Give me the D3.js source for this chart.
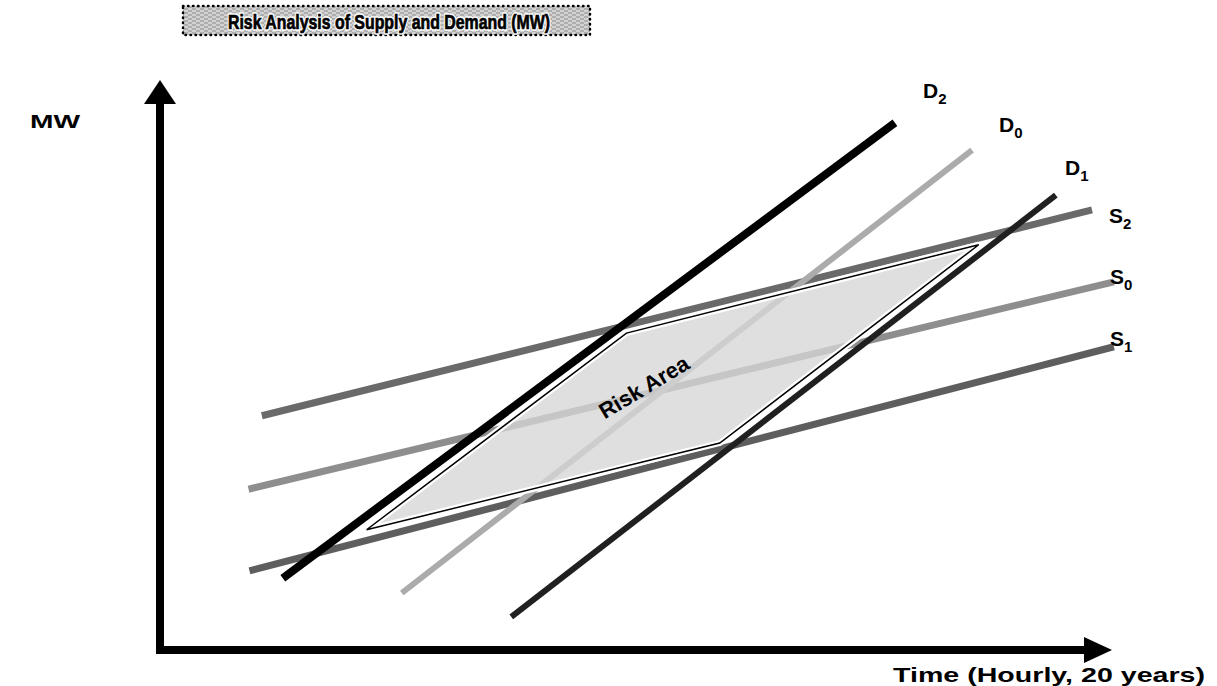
<!DOCTYPE html>
<html>
<head>
<meta charset="utf-8">
<script src="https://cdn.jsdelivr.net/npm/d3@7"></script>
<style>
  body { margin: 0; background: #fff; }
  svg { display: block; }
  text { font-family: "Liberation Sans", Arial, sans-serif; font-weight: bold; }
</style>
</head>
<body>
<svg id="chart" width="1217" height="686"></svg>
<script>
// data (chart units, 0..100 on both axes)
var title = "Risk Analysis of Supply and Demand (MW)";
var yLabel = "MW";
var xLabel = "Time (Hourly, 20 years)";

var lineNames = ["S", "S", "S", "D", "D", "D"];
var lineSubs = ["2", "0", "1", "2", "0", "1"];
var lineX0 = [10.7, 9.3, 9.4, 12.9, 25.4, 36.9];
var lineY0 = [41.1, 28.2, 13.9, 12.6, 10.0, 5.8];
var lineX1 = [97.9, 100.2, 100.2, 77.2, 85.3, 94.1];
var lineY1 = [77.2, 64.6, 53.2, 92.5, 87.7, 79.8];

var riskX = [21.7, 49.0, 86.0, 58.8];
var riskY = [21.1, 55.6, 71.1, 36.3];
var riskLabel = "Risk Area";

// look
var lineColor = ["#6a6a6a", "#8e8e8e", "#5e5e5e", "#000", "#ababab", "#202020"];
var lineWidth = [7, 7, 7, 8, 6, 6];
var labelPos = [[1109, 223], [1110, 284], [1110, 346], [923, 98], [999, 132], [1065, 175]];

var svg = d3.select("#chart");
var x = d3.scaleLinear().domain([0, 100]).range([160, 1112]);
var y = d3.scaleLinear().domain([0, 100]).range([650, 80]);

// title box
var defs = svg.append("defs");
var pat = defs.append("pattern").attr("id", "hatch")
    .attr("width", 8).attr("height", 4).attr("patternUnits", "userSpaceOnUse");
pat.append("rect").attr("width", 8).attr("height", 4).attr("fill", "#d2d2d2");
pat.append("path").attr("d", "M0 1 H4 M4 3 H8").attr("stroke", "#8a8a8a").attr("stroke-width", 1);

svg.append("rect")
    .attr("x", 183).attr("y", 6).attr("width", 407).attr("height", 29)
    .attr("fill", "url(#hatch)")
    .attr("stroke", "#000").attr("stroke-width", 2.5)
    .attr("stroke-dasharray", "0.5,4.5").attr("stroke-linecap", "round");

var titleText = svg.append("g");
titleText.append("text")
    .attr("x", 228).attr("y", 29)
    .attr("font-size", 20)
    .attr("textLength", 322).attr("lengthAdjust", "spacingAndGlyphs")
    .attr("stroke", "#fff").attr("stroke-width", 3.5)
    .attr("stroke-linejoin", "round")
    .attr("fill", "#000")
    .text(title);
titleText.append("text")
    .attr("x", 228).attr("y", 29)
    .attr("font-size", 20)
    .attr("textLength", 322).attr("lengthAdjust", "spacingAndGlyphs")
    .attr("stroke", "#000").attr("stroke-width", 0.7)
    .attr("fill", "#000")
    .text(title);

// axes with arrow heads
var axis = svg.append("g");
axis.append("line")
    .attr("x1", x(0)).attr("y1", y(0) + 4).attr("x2", x(0)).attr("y2", y(100) + 22)
    .attr("stroke", "#000").attr("stroke-width", 8);
axis.append("path")
    .attr("d", d3.line()([[x(0) - 16, y(100) + 24], [x(0), y(100)], [x(0) + 16, y(100) + 24]]) + "Z")
    .attr("fill", "#000");
axis.append("line")
    .attr("x1", x(0) - 4).attr("y1", y(0)).attr("x2", x(100) - 26).attr("y2", y(0))
    .attr("stroke", "#000").attr("stroke-width", 8);
axis.append("path")
    .attr("d", d3.line()([[x(100) - 28, y(0) - 13], [x(100), y(0)], [x(100) - 28, y(0) + 13]]) + "Z")
    .attr("fill", "#000");

svg.append("text").attr("x", 30).attr("y", 128)
    .attr("font-size", 19).attr("textLength", 50).attr("lengthAdjust", "spacingAndGlyphs")
    .text(yLabel);
svg.append("text").attr("x", 893).attr("y", 682)
    .attr("font-size", 21).attr("textLength", 312).attr("lengthAdjust", "spacingAndGlyphs")
    .text(xLabel);

// supply / demand lines
var idx = d3.range(lineNames.length);
svg.append("g").selectAll("line").data(idx).join("line")
    .attr("x1", function (i) { return x(lineX0[i]); })
    .attr("y1", function (i) { return y(lineY0[i]); })
    .attr("x2", function (i) { return x(lineX1[i]); })
    .attr("y2", function (i) { return y(lineY1[i]); })
    .attr("stroke", function (i) { return lineColor[i]; })
    .attr("stroke-width", function (i) { return lineWidth[i]; });

// risk area
var pts = riskX.map(function (d, i) { return [x(d), y(riskY[i])]; });
var poly = d3.line()(pts) + "Z";
svg.append("path").attr("d", poly)
    .attr("fill", "#d6d6d6").attr("fill-opacity", 0.78)
    .attr("stroke", "#fff").attr("stroke-width", 6);
svg.append("path").attr("d", poly)
    .attr("fill", "none")
    .attr("stroke", "#000").attr("stroke-width", 1.5);

var cx = d3.mean(pts, function (p) { return p[0]; });
var cy = d3.mean(pts, function (p) { return p[1]; });
svg.append("text")
    .attr("transform", "translate(" + (cx - 25) + "," + (cy + 6) + ") rotate(-31)")
    .attr("text-anchor", "middle")
    .attr("font-size", 22)
    .text(riskLabel);

// line labels
var lab = svg.append("g").selectAll("text").data(idx).join("text")
    .attr("x", function (i) { return labelPos[i][0]; })
    .attr("y", function (i) { return labelPos[i][1]; })
    .attr("font-size", 21);
lab.append("tspan").text(function (i) { return lineNames[i]; });
lab.append("tspan").attr("font-size", 15).attr("dy", 6)
    .text(function (i) { return lineSubs[i]; });
</script>
</body>
</html>
